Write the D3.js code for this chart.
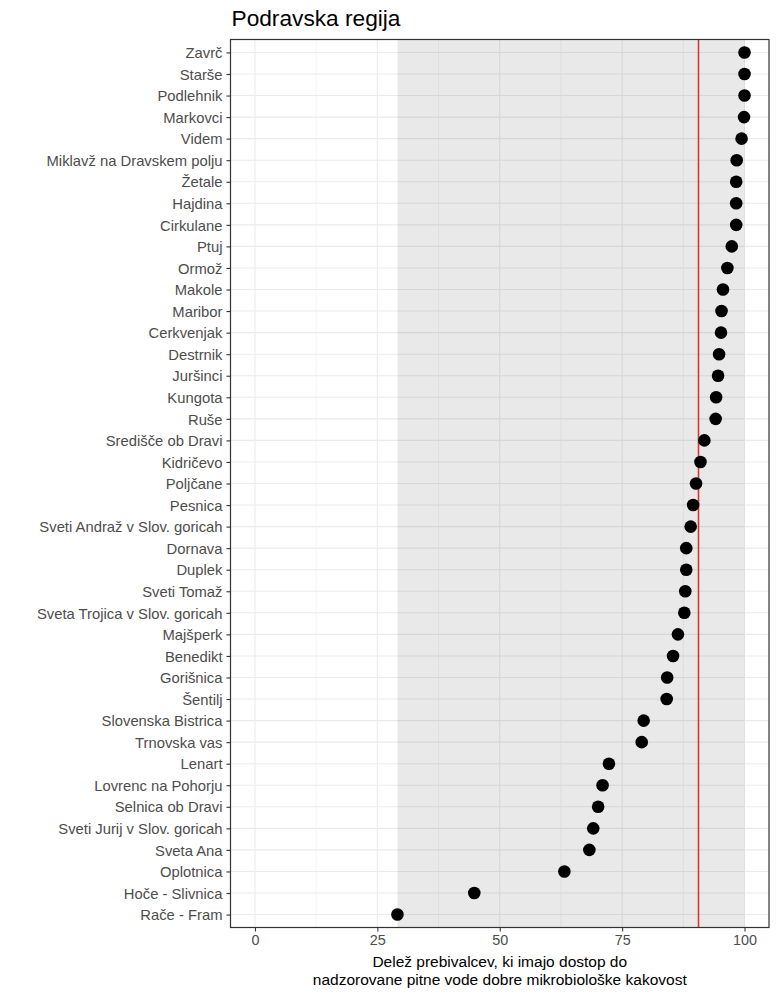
<!DOCTYPE html>
<html>
<head>
<meta charset="utf-8">
<script src="https://cdn.jsdelivr.net/npm/d3@7"></script>
<style>
body { margin: 0; background: #fff; }
svg { font-family: "Liberation Sans", Arial, sans-serif; }
</style>
</head>
<body>
<svg id="chart" width="781" height="1000"></svg>
<script>
const municipalities = [
  "Zavrč", "Starše", "Podlehnik", "Markovci", "Videm", "Miklavž na Dravskem polju",
  "Žetale", "Hajdina", "Cirkulane", "Ptuj", "Ormož", "Makole", "Maribor", "Cerkvenjak",
  "Destrnik", "Juršinci", "Kungota", "Ruše", "Središče ob Dravi", "Kidričevo", "Poljčane",
  "Pesnica", "Sveti Andraž v Slov. goricah", "Dornava", "Duplek", "Sveti Tomaž",
  "Sveta Trojica v Slov. goricah", "Majšperk", "Benedikt", "Gorišnica", "Šentilj",
  "Slovenska Bistrica", "Trnovska vas", "Lenart", "Lovrenc na Pohorju", "Selnica ob Dravi",
  "Sveti Jurij v Slov. goricah", "Sveta Ana", "Oplotnica", "Hoče - Slivnica", "Rače - Fram"
];
const shares = [
  100, 100, 100, 99.9, 99.4, 98.4,
  98.3, 98.3, 98.3, 97.4, 96.5, 95.6, 95.3, 95.2,
  94.8, 94.6, 94.2, 94.1, 91.8, 91.0, 90.1,
  89.5, 89.0, 88.1, 88.1, 87.9,
  87.7, 86.4, 85.4, 84.2, 84.1,
  79.4, 79.0, 72.3, 71.0, 70.1,
  69.1, 68.3, 63.2, 44.8, 29.1
];
const referenceValue = 90.6;
const xTicks = [0, 25, 50, 75, 100];
const xMinorTicks = [12.5, 37.5, 62.5, 87.5];
const titleText = "Podravska regija";
const xTitleLines = ["Delež prebivalcev, ki imajo dostop do", "nadzorovane pitne vode dobre mikrobiološke kakovost"];

const data = municipalities.map((m, i) => ({ name: m, value: shares[i] }));

const svg = d3.select("#chart");
const L = 230.5, R = 769, T = 39.5, B = 927.5;

const x = d3.scaleLinear().domain([-5, 105]).range([L, R]);
const y = d3.scalePoint().domain(municipalities).range([T, B]).padding(0.6);

// grid
const g = svg.append("g");
g.selectAll("line.minor").data(xMinorTicks).join("line")
  .attr("x1", d => x(d)).attr("x2", d => x(d)).attr("y1", T).attr("y2", B)
  .attr("stroke", "#ebebeb").attr("stroke-width", 0.6);
g.selectAll("line.majx").data(xTicks).join("line")
  .attr("x1", d => x(d)).attr("x2", d => x(d)).attr("y1", T).attr("y2", B)
  .attr("stroke", "#ebebeb").attr("stroke-width", 1.1);
g.selectAll("line.majy").data(municipalities).join("line")
  .attr("x1", L).attr("x2", R).attr("y1", d => y(d)).attr("y2", d => y(d))
  .attr("stroke", "#ebebeb").attr("stroke-width", 1.1);

// range rect
const minV = d3.min(shares), maxV = d3.max(shares);
svg.append("rect")
  .attr("x", x(minV)).attr("width", x(maxV) - x(minV))
  .attr("y", T).attr("height", B - T)
  .attr("fill", "#000").attr("fill-opacity", 0.085);

// reference line
svg.append("line")
  .attr("x1", x(referenceValue)).attr("x2", x(referenceValue))
  .attr("y1", T).attr("y2", B)
  .attr("stroke", "#d93636").attr("stroke-width", 1.6);

// points
svg.append("g").selectAll("circle").data(data).join("circle")
  .attr("cx", d => x(d.value)).attr("cy", d => y(d.name))
  .attr("r", 6.3).attr("fill", "#000");

// panel border
svg.append("rect").attr("x", L).attr("y", T).attr("width", R - L).attr("height", B - T)
  .attr("fill", "none").attr("stroke", "#333").attr("stroke-width", 1.2);

// axes
const xAxis = svg.append("g").attr("transform", `translate(0,${B})`)
  .call(d3.axisBottom(x).tickValues(xTicks).tickSize(4).tickPadding(3).tickFormat(d3.format("d")));
const yAxis = svg.append("g").attr("transform", `translate(${L},0)`)
  .call(d3.axisLeft(y).tickSize(4).tickPadding(4));
[xAxis, yAxis].forEach(a => {
  a.select(".domain").remove();
  a.selectAll(".tick line").attr("stroke", "#333").attr("stroke-width", 1.1);
  a.selectAll(".tick text").attr("fill", "#4d4d4d")
    .style("font-family", "'Liberation Sans', Arial, sans-serif");
});
xAxis.selectAll(".tick text").style("font-size", "14.4px").attr("dy", "0.71em");
yAxis.selectAll(".tick text").style("font-size", "14.8px").attr("dy", "0.35em");

// title
svg.append("text").attr("x", L + 1).attr("y", 26).text(titleText)
  .style("font-size", "22.7px").attr("fill", "#000");

// x title
svg.append("text").attr("x", (L + R) / 2).attr("y", 967).attr("text-anchor", "middle")
  .style("font-size", "15.5px").attr("fill", "#000")
  .selectAll("tspan").data(xTitleLines).join("tspan")
  .attr("x", (L + R) / 2).attr("dy", (d, i) => i === 0 ? 0 : 17.5).text(d => d);
</script>
</body>
</html>
